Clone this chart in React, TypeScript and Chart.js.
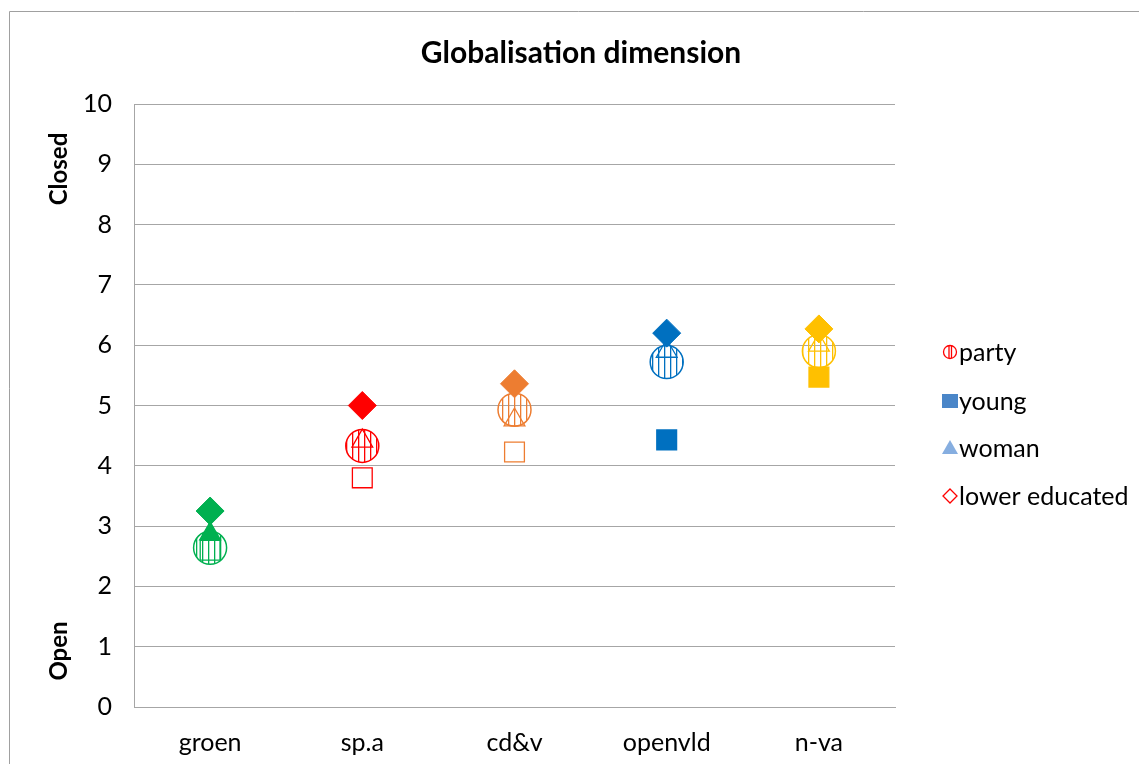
import { useEffect, useRef } from 'react';
import { Chart, registerables } from 'chart.js';

Chart.register(...registerables);

const categories = ['groen', 'sp.a', 'cd&v', 'openvld', 'n-va'];
const partyColors = ['#00B050', '#FF0000', '#ED7D31', '#0070C0', '#FFC000'];
const partyValues = [2.64, 4.33, 4.93, 5.72, 5.9];
const youngValues = [2.6, 3.8, 4.23, 4.43, 5.47];
const womanValues = [2.87, 4.41, 4.76, 5.9, 6.0];
const lowerEducatedValues = [3.25, 5.0, 5.36, 6.2, 6.27];
const youngFilled = [false, false, false, true, true];
const womanFilled = [true, false, false, false, false];
const seriesNames = ['party', 'young', 'woman', 'lower educated'];
const chartTitle = 'Globalisation dimension';
const axisTop = 'Closed';
const axisBottom = 'Open';

const FONT = 'Lato, Carlito, Calibri, "Open Sans", sans-serif';
const GRID = '#A6A6A6';

function stripePattern(ctx: CanvasRenderingContext2D, color: string): CanvasPattern | string {
  const c = document.createElement('canvas');
  c.width = 6;
  c.height = 4;
  const g = c.getContext('2d');
  if (!g) return 'rgba(0,0,0,0)';
  g.fillStyle = color;
  g.fillRect(2, 0, 1.3, 4);
  const p = ctx.createPattern(c, 'repeat');
  return p || 'rgba(0,0,0,0)';
}

export default function App() {
  const ref = useRef<HTMLCanvasElement | null>(null);

  useEffect(() => {
    document.body.style.overflow = 'hidden';
    const canvas = ref.current;
    if (!canvas) return;
    const ctx0 = canvas.getContext('2d')!;
    const patterns = partyColors.map((c) => stripePattern(ctx0, c));

    const decor = {
      id: 'decor',
      afterDraw(chart: any) {
        const ctx: CanvasRenderingContext2D = chart.ctx;
        ctx.save();
        // frame
        ctx.strokeStyle = '#A0A0A0';
        ctx.lineWidth = 1;
        ctx.beginPath();
        ctx.moveTo(1.5, 2000);
        ctx.lineTo(1.5, 3.5);
        ctx.lineTo(3000, 3.5);
        ctx.stroke();
        // title
        ctx.fillStyle = '#000';
        ctx.font = `bold 30px ${FONT}`;
        ctx.textAlign = 'center';
        ctx.textBaseline = 'middle';
        ctx.fillText(chartTitle, 573, 45);
        // vertical axis words
        ctx.font = `bold 24px ${FONT}`;
        ctx.save();
        ctx.translate(51, 161);
        ctx.rotate(-Math.PI / 2);
        ctx.fillText(axisTop, 0, 0);
        ctx.restore();
        ctx.save();
        ctx.translate(51, 643);
        ctx.rotate(-Math.PI / 2);
        ctx.fillText(axisBottom, 0, 0);
        ctx.restore();
        // legend
        const ys = [344, 393, 440, 488];
        const mx = 942;
        ctx.font = `25px ${FONT}`;
        ctx.textAlign = 'left';
        seriesNames.forEach((name, i) => {
          const y = ys[i];
          ctx.lineWidth = 1.3;
          if (i === 0) {
            ctx.strokeStyle = '#FF0000';
            ctx.beginPath();
            ctx.arc(mx, y, 6.5, 0, Math.PI * 2);
            ctx.stroke();
            ctx.beginPath();
            ctx.moveTo(mx - 1, y - 6);
            ctx.lineTo(mx - 1, y + 6);
            ctx.moveTo(mx + 1.5, y - 6);
            ctx.lineTo(mx + 1.5, y + 6);
            ctx.stroke();
          } else if (i === 1) {
            ctx.fillStyle = '#4A86C8';
            ctx.fillRect(mx - 8, y - 7, 16, 14);
          } else if (i === 2) {
            ctx.fillStyle = '#86AEE0';
            ctx.beginPath();
            ctx.moveTo(mx, y - 8);
            ctx.lineTo(mx + 8, y + 6);
            ctx.lineTo(mx - 8, y + 6);
            ctx.closePath();
            ctx.fill();
          } else {
            ctx.strokeStyle = '#FF0000';
            ctx.beginPath();
            ctx.moveTo(mx, y - 7);
            ctx.lineTo(mx + 7, y);
            ctx.lineTo(mx, y + 7);
            ctx.lineTo(mx - 7, y);
            ctx.closePath();
            ctx.stroke();
          }
          ctx.fillStyle = '#000';
          ctx.fillText(name, 951, y + 1);
        });
        ctx.restore();
      },
    };

    const chart = new Chart(canvas, {
      type: 'line',
      data: {
        labels: categories,
        datasets: [
          {
            label: seriesNames[3],
            data: lowerEducatedValues,
            order: 0,
            showLine: false,
            pointStyle: 'rectRot',
            pointRadius: 14,
            pointHoverRadius: 14,
            pointBackgroundColor: partyColors,
            pointBorderColor: partyColors,
            pointBorderWidth: 1,
          },
          {
            label: seriesNames[2],
            data: womanValues,
            order: 1,
            showLine: false,
            pointStyle: 'triangle',
            pointRadius: 12,
            pointHoverRadius: 12,
            pointBackgroundColor: partyColors.map((c, i) => (womanFilled[i] ? c : 'rgba(255,255,255,0)')),
            pointBorderColor: partyColors,
            pointBorderWidth: 1.3,
          },
          {
            label: seriesNames[0],
            data: partyValues,
            order: 2,
            showLine: false,
            pointStyle: 'circle',
            pointRadius: 16.5,
            pointHoverRadius: 16.5,
            pointBackgroundColor: patterns as any,
            pointBorderColor: partyColors,
            pointBorderWidth: 1.5,
          },
          {
            label: seriesNames[1],
            data: youngValues,
            order: 3,
            showLine: false,
            pointStyle: 'rect',
            pointRadius: 14,
            pointHoverRadius: 14,
            pointBackgroundColor: partyColors.map((c, i) => (youngFilled[i] ? c : 'rgba(255,255,255,0)')),
            pointBorderColor: partyColors,
            pointBorderWidth: 1.3,
          },
        ],
      },
      options: {
        responsive: false,
        animation: false,
        layout: { padding: { top: 96, right: 252, left: 0, bottom: 0 } },
        plugins: {
          legend: { display: false },
          title: { display: false },
          tooltip: { enabled: false },
        },
        scales: {
          x: {
            type: 'category',
            offset: true,
            grid: { display: false, drawTicks: false },
            border: { display: true, color: GRID, width: 1 },
            ticks: { color: '#000', font: { family: FONT, size: 25 }, padding: 21 },
            afterFit: (s: any) => {
              s.height = 57;
            },
          },
          y: {
            min: 0,
            max: 10,
            ticks: { stepSize: 1, color: '#000', font: { family: FONT, size: 25 }, padding: 22 },
            grid: { color: GRID, drawTicks: false },
            border: { display: true, color: GRID, width: 1 },
            afterFit: (s: any) => {
              s.width = 126;
            },
          },
        },
      },
      plugins: [decor],
    });
    return () => chart.destroy();
  }, []);

  return (
    <div style={{ width: 1139, height: 756, overflow: 'hidden' }}>
      <canvas ref={ref} width={1139} height={756} style={{ display: 'block' }} />
    </div>
  );
}
